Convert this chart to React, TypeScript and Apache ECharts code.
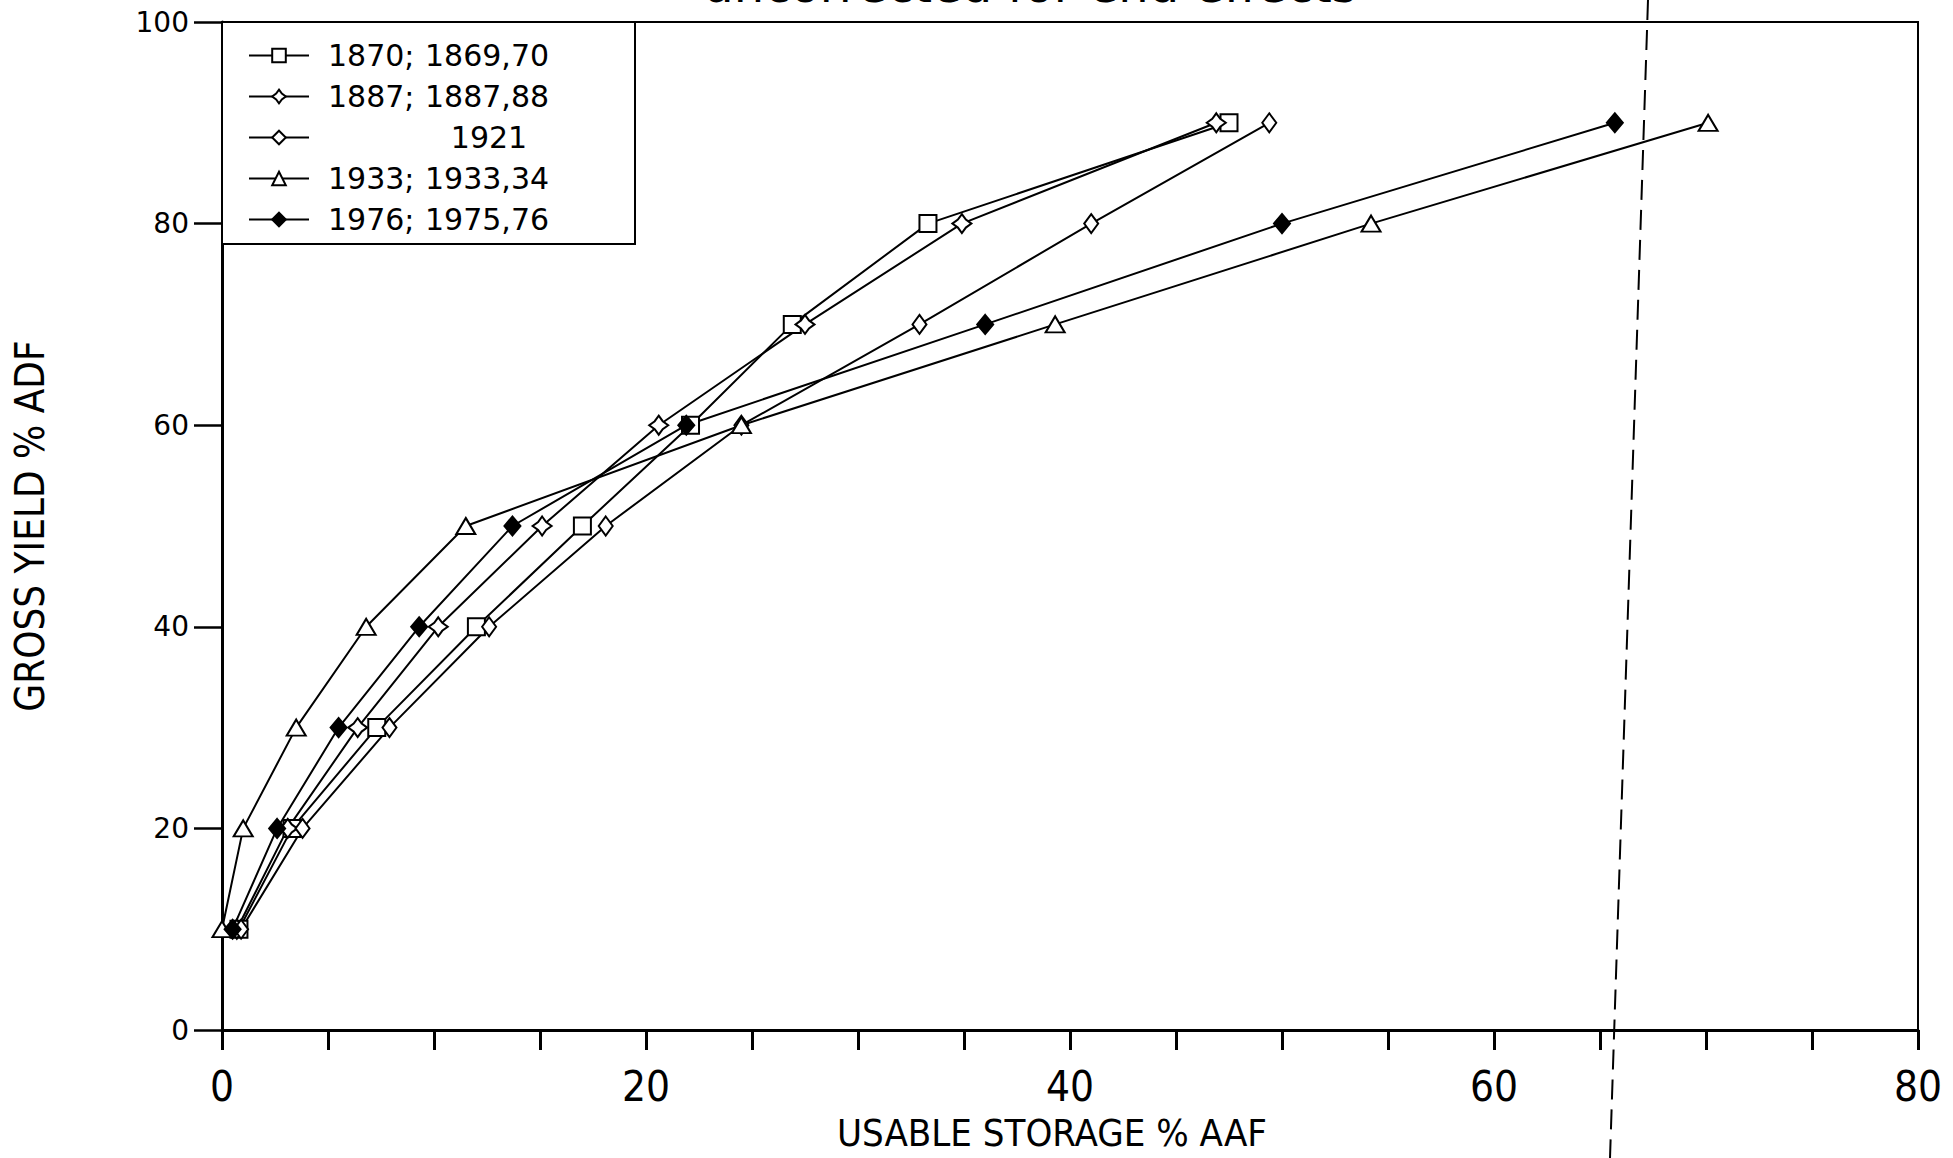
import React, { useEffect, useRef } from "react";
import * as echarts from "echarts";

// Gross yield levels (% ADF) – y values shared by all curves
const yieldLevels = [10, 20, 30, 40, 50, 60, 70, 80, 90];

// Usable storage (% AAF) needed for each yield level, per critical period
const storage1870 = [0.8, 3.3, 7.3, 12.0, 17.0, 22.1, 26.9, 33.3, 47.5];
const storage1887 = [0.7, 3.1, 6.4, 10.2, 15.1, 20.6, 27.5, 34.9, 46.9];
const storage1921 = [0.9, 3.8, 7.9, 12.6, 18.1, 24.5, 32.9, 41.0, 49.4];
const storage1933 = [0.0, 1.0, 3.5, 6.8, 11.5, 24.5, 39.3, 54.2, 70.1];
const storage1976 = [0.5, 2.6, 5.5, 9.3, 13.7, 21.9, 36.0, 50.0, 65.7];

const seriesNames = [
  "1870; 1869,70",
  "1887; 1887,88",
  "1921",
  "1933; 1933,34",
  "1976; 1975,76",
];

const xTicks = [0, 20, 40, 60, 80];
const yTicks = [0, 20, 40, 60, 80, 100];

const titleText = "uncorrected for end effects";
const xName = "USABLE STORAGE % AAF";
const yName = "GROSS YIELD % ADF";

const NARROW = '"Liberation Sans Narrow", "DejaVu Sans Condensed", "Arial Narrow", sans-serif';
const ROUND = '"DejaVu Sans", "Noto Sans", sans-serif';

const STAR =
  "path://M0,-10 L4.2,-4.2 L10,0 L4.2,4.2 L0,10 L-4.2,4.2 L-10,0 L-4.2,-4.2 Z";

function pairs(xs: number[]) {
  return xs.map((x, i) => [x, yieldLevels[i]]);
}

export default function App() {
  const ref = useRef<HTMLDivElement>(null);

  useEffect(() => {
    if (!ref.current) return;
    const chart = echarts.init(ref.current, undefined, { renderer: "svg" });

    const styles = [
      { symbol: "rect", symbolSize: 17, fill: "#fff" },
      { symbol: STAR, symbolSize: 19, fill: "#fff" },
      { symbol: "diamond", symbolSize: [14, 19], fill: "#fff" },
      { symbol: "triangle", symbolSize: [19, 16], fill: "#fff" },
      { symbol: "diamond", symbolSize: [16, 19], fill: "#000" },
    ];
    const dataSets = [storage1870, storage1887, storage1921, storage1933, storage1976];

    const series = dataSets.map((d, i) => ({
      name: seriesNames[i],
      type: "line",
      data: pairs(d),
      symbol: styles[i].symbol,
      symbolSize: styles[i].symbolSize,
      showAllSymbol: true,
      lineStyle: { color: "#000", width: 2 },
      itemStyle: { color: styles[i].fill, borderColor: "#000", borderWidth: 2 },
      emphasis: { disabled: true },
      silent: true,
      z: 3,
    }));

    const tok = { fontSize: 30, fontFamily: ROUND, color: "#000", lineHeight: 41 };

    chart.setOption({
      animation: false,
      backgroundColor: "#fff",
      grid: {
        left: 222,
        right: 35,
        top: 22,
        bottom: 128,
        containLabel: false,
        outerBoundsMode: "none",
        show: true,
        borderColor: "#000",
        borderWidth: 2,
        backgroundColor: "transparent",
      },
      legend: {
        show: true,
        orient: "vertical",
        left: 222,
        top: 22,
        itemWidth: 60,
        itemHeight: 17,
        itemGap: 0,
        padding: [13, 82, 4, 26],
        borderColor: "#000",
        borderWidth: 2,
        backgroundColor: "#fff",
        selectedMode: false,
        data: seriesNames,
        formatter: (name: string) => {
          const parts = name.split("; ");
          if (parts.length === 2) return `{a|${parts[0]};}{b|${parts[1]}}`;
          return `{a| }{c|${name}}`;
        },
        textStyle: {
          ...tok,
          rich: {
            a: { ...tok, width: 97, padding: [0, 0, 0, 14] },
            b: { ...tok, width: 128 },
            c: { ...tok, width: 128, align: "center" },
          },
        },
      },
      xAxis: {
        type: "value",
        min: xTicks[0],
        max: xTicks[xTicks.length - 1],
        interval: 20,
        name: xName,
        nameLocation: "middle",
        nameGap: 85,
        nameTextStyle: {
          fontFamily: NARROW,
          fontSize: 38,
          lineHeight: 36,
          color: "#000",
          padding: [0, 36, 0, 0],
        },
        axisLine: { show: true, lineStyle: { color: "#000", width: 3 } },
        axisTick: { show: true, length: 20, lineStyle: { color: "#000", width: 3 } },
        minorTick: { show: true, splitNumber: 4, length: 20, lineStyle: { color: "#000", width: 3 } },
        splitLine: { show: false },
        minorSplitLine: { show: false },
        axisLabel: { fontFamily: NARROW, fontSize: 42, color: "#000", margin: 35 },
      },
      yAxis: {
        type: "value",
        min: yTicks[0],
        max: yTicks[yTicks.length - 1],
        interval: 20,
        name: yName,
        nameLocation: "middle",
        nameGap: 172,
        nameTextStyle: { fontFamily: NARROW, fontSize: 40, color: "#000" },
        axisLine: { show: true, lineStyle: { color: "#000", width: 3 } },
        axisTick: { show: true, length: 28, lineStyle: { color: "#000", width: 2.5 } },
        splitLine: { show: false },
        axisLabel: { fontFamily: ROUND, fontSize: 28, color: "#000", margin: 33 },
      },
      graphic: [
        {
          type: "text",
          x: 1030,
          y: 9,
          silent: true,
          style: {
            text: titleText,
            fontFamily: ROUND,
            fontSize: 48,
            fill: "#000",
            textAlign: "center",
            textVerticalAlign: "bottom",
          },
        },
        {
          type: "line",
          silent: true,
          z: 10,
          shape: { x1: 1648, y1: 0, x2: 1610, y2: 1158 },
          style: { stroke: "#000", lineWidth: 2, lineDash: [20, 10] },
        },
      ],
      series,
    });

    return () => chart.dispose();
  }, []);

  return (
    <div
      ref={ref}
      style={{ position: "absolute", left: 0, top: 0, width: 1953, height: 1158, background: "#fff" }}
    />
  );
}
